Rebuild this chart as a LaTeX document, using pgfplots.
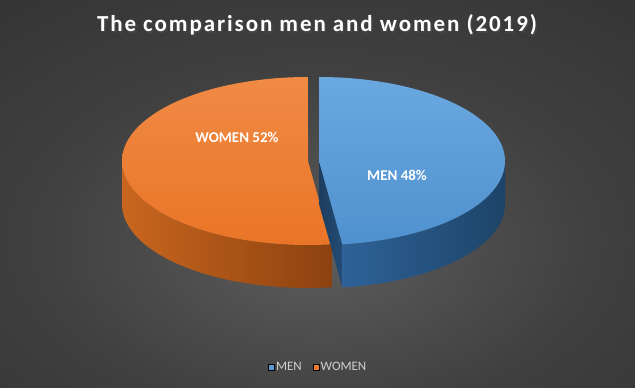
\documentclass[border=0pt]{standalone}
\usepackage{fontspec}
\setmainfont{Carlito}
\newfontfamily\titlefont[LetterSpace=8.5]{Carlito}
\usepackage{pgfplots}
\pgfplotsset{compat=1.18}
\usepackage{pgfplotstable}

\pgfplotstableread{
label value
MEN 48
WOMEN 52
}\piedata

\definecolor{bgin}{HTML}{5C5C5C}
\definecolor{bgmid}{HTML}{404040}
\definecolor{bgout}{HTML}{252525}
\definecolor{menTopA}{HTML}{6AA8E0}
\definecolor{menTopB}{HTML}{4F91CF}
\definecolor{menSideA}{HTML}{2E6298}
\definecolor{menSideB}{HTML}{1D4468}
\definecolor{menCut}{HTML}{234C75}
\definecolor{wTopA}{HTML}{F08A45}
\definecolor{wTopB}{HTML}{EA7527}
\definecolor{wSideA}{HTML}{C9661F}
\definecolor{wSideB}{HTML}{8C420F}
\definecolor{menLeg}{HTML}{5B9BD5}
\definecolor{wLeg}{HTML}{ED7D31}
\definecolor{legtext}{HTML}{D0D0D0}

\pgfdeclareradialshading{bgshade}{\pgfpoint{0bp}{-8bp}}{color(0bp)=(bgin); color(22bp)=(bgmid); color(62bp)=(bgout); color(90bp)=(bgout)}

\pgfplotstablegetelem{0}{value}\of\piedata \let\vmen\pgfplotsretval
\pgfplotstablegetelem{1}{value}\of\piedata \let\vwomen\pgfplotsretval
\pgfmathsetmacro\total{\vmen+\vwomen}
\pgfmathsetmacro\fmen{\vmen/\total}
\pgfmathsetmacro\fwomen{\vwomen/\total}
\pgfmathsetmacro\mA{90}
\pgfmathsetmacro\mB{90-360*\fmen}
\pgfmathsetmacro\wA{\mB}
\pgfmathsetmacro\wB{\mB-360*\fwomen}
% geometry (pixels)
\def\RA{186}
\def\RB{84}
\def\DEP{43}
\def\CY{161}
\def\CXM{319}
\def\CXW{308}
\def\N{90}
\pgfmathsetmacro\NN{\N+2}
\pgfmathsetmacro\NS{\N+3}
\pgfmathsetmacro\SD{2*\N+1}
\pgfmathsetmacro\SS{2*\N+2}
% men cut face corners
\pgfmathsetmacro\cutx{\CXM+\RA*cos(\mB)}
\pgfmathsetmacro\cuty{\CY-\RB*sin(\mB)}
\pgfmathsetmacro\cutyb{\cuty+\DEP}
\pgfmathsetmacro\cyb{\CY+\DEP}

% top wedge: #1 cx, #2 theta1, #3 theta2, #4 style
\newcommand\topwedge[4]{%
  \addplot[#4, draw=none, forget plot, domain=0:\NN, samples=\NS, variable=\t]
   ({#1 + (\t>0.5)*(\t<\N+1.5)*\RA*cos(#2+(\t-1)/\N*(#3-(#2)))},
    {\CY - (\t>0.5)*(\t<\N+1.5)*\RB*sin(#2+(\t-1)/\N*(#3-(#2)))}) -- cycle;}
% outer side: #1 cx, #2 theta1, #3 theta2, #4 style
\newcommand\sideface[4]{%
  \addplot[#4, draw=none, forget plot, domain=0:\SD, samples=\SS, variable=\t]
   ({#1 + \RA*cos((\t<\N+0.5)*(#2+\t/\N*(#3-(#2))) + (1-(\t<\N+0.5))*(#3-(\t-\N-1)/\N*(#3-(#2))))},
    {\CY - \RB*sin((\t<\N+0.5)*(#2+\t/\N*(#3-(#2))) + (1-(\t<\N+0.5))*(#3-(\t-\N-1)/\N*(#3-(#2)))) + (1-(\t<\N+0.5))*\DEP}) -- cycle;}

\begin{document}
\begin{tikzpicture}
\shade[shading=bgshade] (0,0) rectangle (635bp,388bp);
\begin{axis}[at={(0,0)}, anchor=south west, scale only axis,
  width=635bp, height=388bp, xmin=0, xmax=635, ymin=0, ymax=388,
  y dir=reverse, hide axis, clip=false,
  legend columns=2,
  legend image code/.code={\fill[#1] (0bp,-3bp) rectangle (6bp,3bp);},
  legend style={at={(axis cs:318,367)}, anchor=center, draw=none, fill=none,
    text=legtext, font=\fontsize{13}{14}\selectfont,
    inner sep=0pt, /tikz/every even column/.append style={column sep=10bp},
    nodes={inner sep=1.2pt}},
]
% women
\sideface{\CXW}{\wA}{-180}{left color=wSideA, right color=wSideB}
\topwedge{\CXW}{\mB}{\wB}{top color=wTopA, bottom color=wTopB}
% men
\addplot[draw=none, forget plot, left color=menCut!80!black, right color=menCut]
  coordinates {(\CXM,\CY) (\cutx,\cuty) (\cutx,\cutyb) (\CXM,\cyb)} -- cycle;
\sideface{\CXM}{\mB}{0}{left color=menSideA, right color=menSideB}
\topwedge{\CXM}{\mA}{\mB}{top color=menTopA, bottom color=menTopB}

\addlegendimage{fill=menLeg}
\addlegendentry{MEN}
\addlegendimage{fill=wLeg}
\addlegendentry{WOMEN}

\node[text=white, font=\bfseries\fontsize{15}{16}\selectfont] at (axis cs:237,137) {WOMEN \vwomen\%};
\node[text=white, font=\bfseries\fontsize{15}{16}\selectfont] at (axis cs:397,175) {MEN \vmen\%};
\node[text=black!70, opacity=0.6, font=\titlefont\bfseries\fontsize{23}{26}\selectfont] at (axis cs:318.5,26.5) {The comparison men and women (2019)};
\node[text=white, font=\titlefont\bfseries\fontsize{23}{26}\selectfont] at (axis cs:317,25) {The comparison men and women (2019)};
\end{axis}
\end{tikzpicture}
\end{document}
